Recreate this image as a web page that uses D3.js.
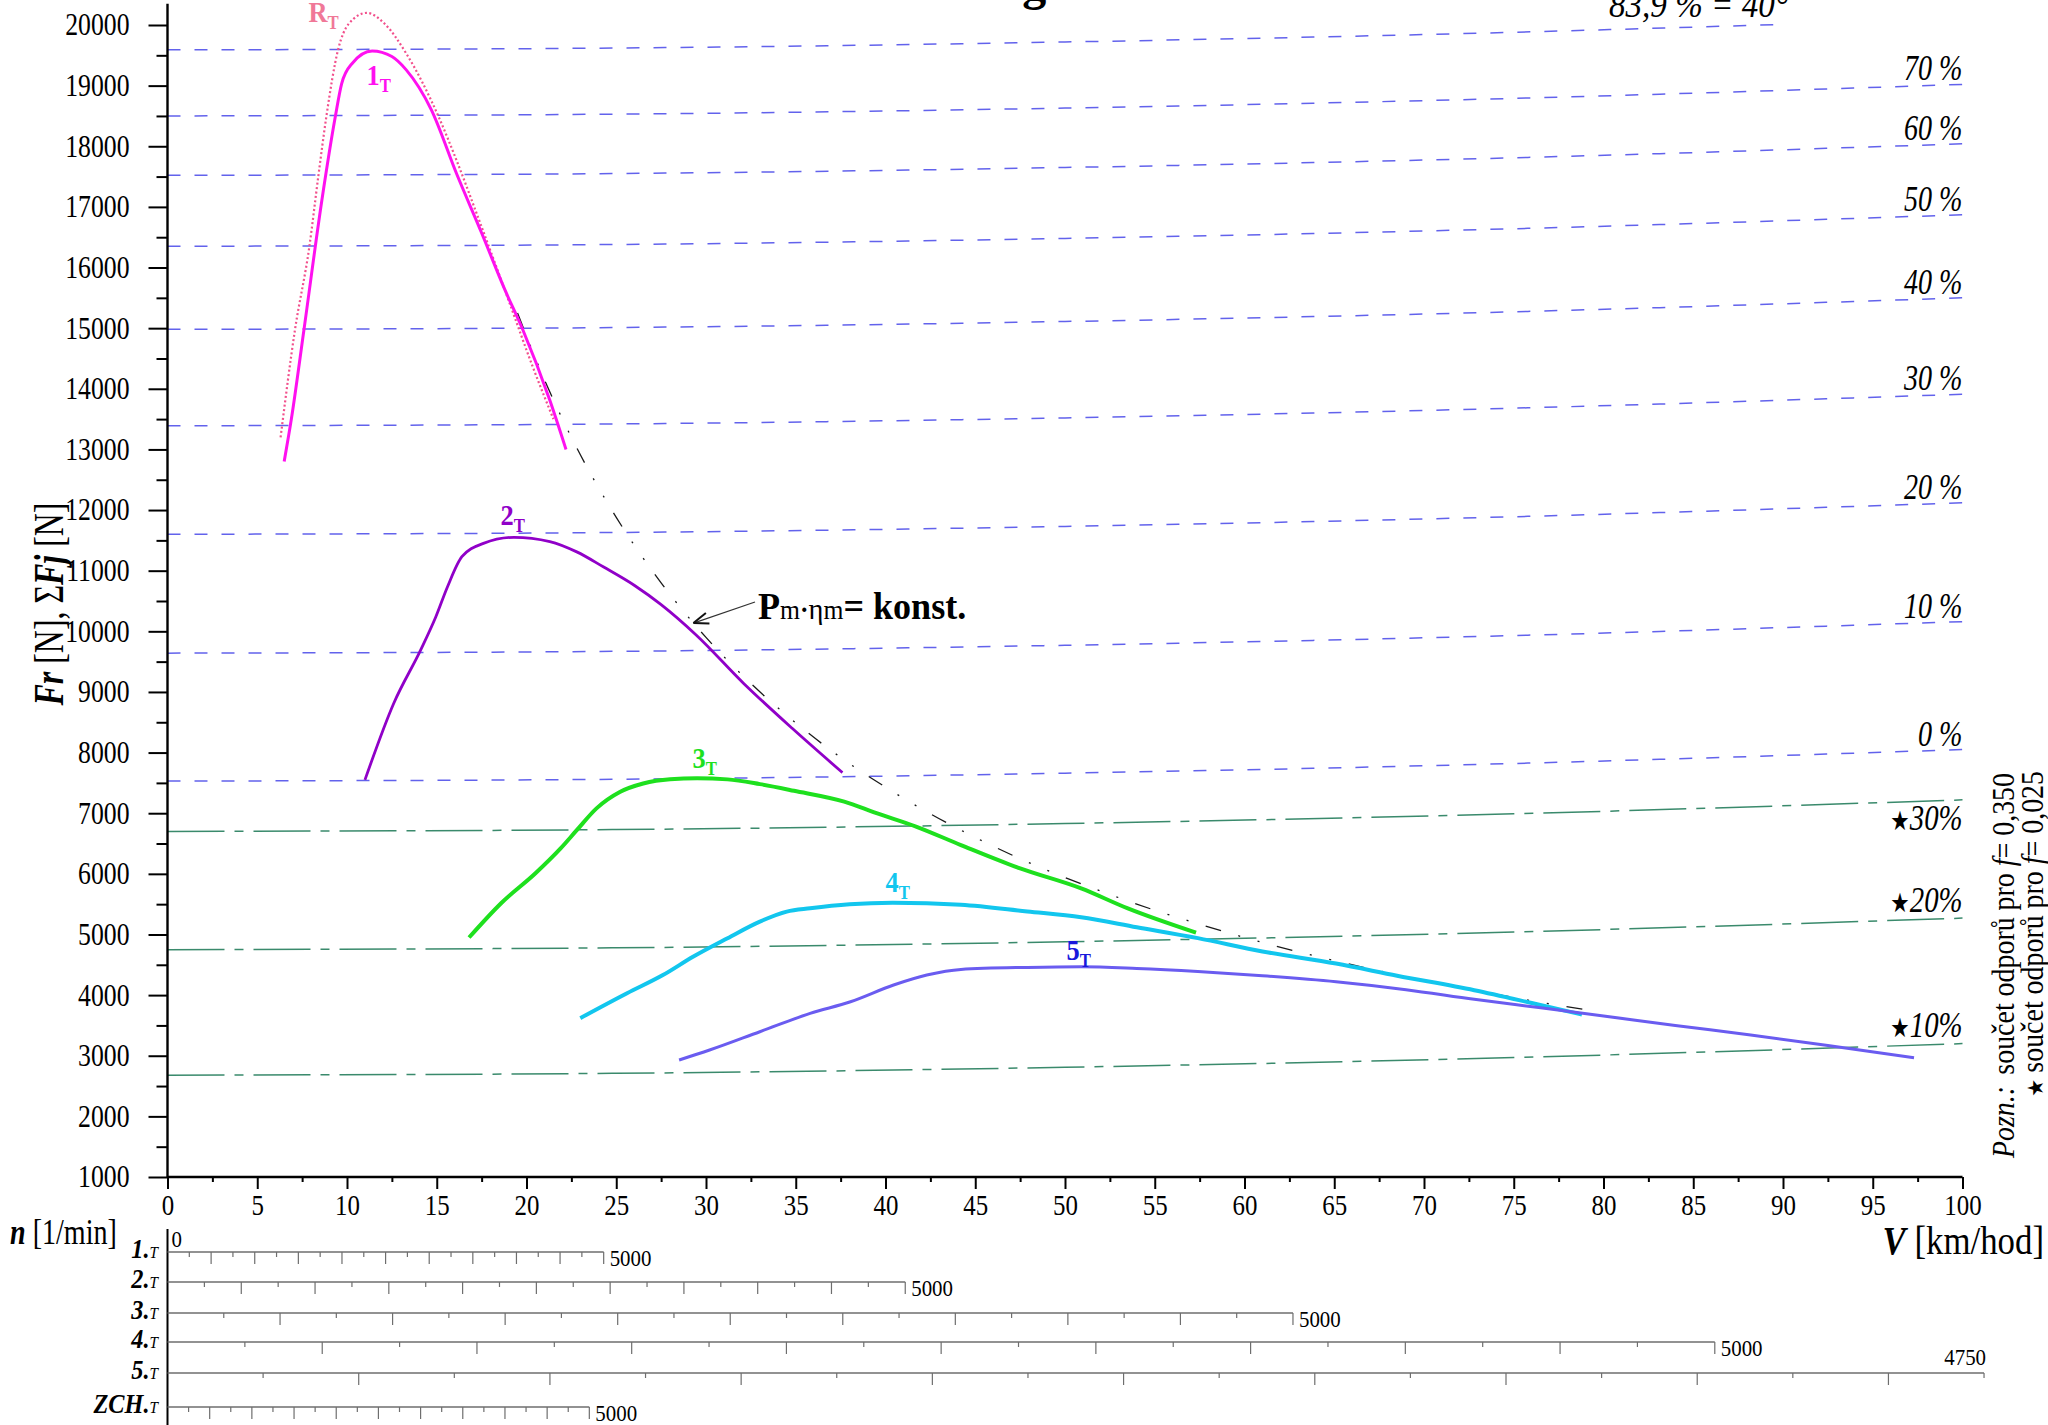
<!DOCTYPE html>
<html>
<head>
<meta charset="utf-8">
<script src="https://cdn.jsdelivr.net/npm/d3@7/dist/d3.min.js"></script>
<style>
  body { margin: 0; background: #fff; }
  svg { display: block; }
  text { font-family: "Liberation Serif", "Times New Roman", serif; fill: #000; }
</style>
</head>
<body>
<svg id="chart" width="2048" height="1425"></svg>
<script>
// ---------- axis ticks ----------
const speedTicks = [0, 5, 10, 15, 20, 25, 30, 35, 40, 45, 50, 55, 60, 65, 70, 75, 80, 85, 90, 95, 100];
const speedMinor = [2.5, 7.5, 12.5, 17.5, 22.5, 27.5, 32.5, 37.5, 42.5, 47.5, 52.5, 57.5, 62.5, 67.5, 72.5, 77.5, 82.5, 87.5, 92.5, 97.5];
const forceTicks = [1000, 2000, 3000, 4000, 5000, 6000, 7000, 8000, 9000, 10000, 11000, 12000, 13000, 14000, 15000, 16000, 17000, 18000, 19000, 20000];
const forceMinor = [1500, 2500, 3500, 4500, 5500, 6500, 7500, 8500, 9500, 10500, 11500, 12500, 13500, 14500, 15500, 16500, 17500, 18500, 19500];

// ---------- tractive force per gear [V km/h, F N] ----------
const gear1 = [[6.5,12800],[6.9,13500],[7.6,14970],[8.6,17110],[9.35,18490],[9.7,19030],[10.3,19370],[11.4,19570],[12.5,19480],[13.3,19260],[14.7,18600],[16.1,17550],[17.5,16570],[18.8,15630],[19.8,14970],[21.3,13810],[22.2,13000]];
const idealR = [[6.3,13200],[7.1,14970],[7.9,16340],[8.4,17500],[8.85,18490],[9.5,19590],[10.1,20020],[11.1,20200],[12.1,20020],[13.3,19530],[15.1,18490],[16.1,17770],[17.5,16670],[19.0,15460],[20.3,14400],[21.5,13500]];
const gear2 = [[11.0,7550],[12.6,8810],[14.1,9690],[14.95,10240],[15.6,10735],[16.4,11230],[17.6,11450],[19.3,11550],[21.3,11480],[22.8,11310],[24.3,11060],[26.0,10760],[27.5,10440],[29.45,9940],[32.1,9140],[34.8,8400],[37.6,7670]];
const gear3 = [[16.8,4950],[18.6,5520],[20.5,6010],[21.9,6420],[22.8,6720],[23.9,7080],[25.2,7350],[26.5,7490],[28.0,7560],[29.5,7575],[31.2,7558],[33.0,7480],[34.9,7370],[37.7,7190],[39.5,7000],[41.7,6780],[44.2,6475],[47.5,6090],[50.9,5760],[53.5,5430],[57.3,5030]];
const gear4 = [[23.0,3620],[25.6,4030],[27.6,4330],[29.3,4636],[31.2,4938],[33.0,5212],[34.5,5377],[35.8,5432],[38.0,5500],[40.4,5525],[44.2,5490],[47.9,5380],[50.9,5285],[54.0,5120],[57.4,4940],[61.0,4720],[65.1,4520],[68.5,4320],[72.8,4080],[76.0,3870],[78.8,3680]];
const gear5 = [[28.5,2930],[30.2,3094],[33.0,3396],[35.8,3698],[38.05,3890],[40.45,4166],[42.3,4331],[44.2,4424],[47.9,4457],[50.9,4468],[54.0,4440],[57.4,4390],[61.0,4320],[65.1,4221],[69.0,4090],[72.8,3930],[76.5,3790],[79.9,3660],[84.0,3500],[88.2,3342],[92.5,3170],[97.3,2967]];
// constant engine power curve
const constPower = [[19.5,15250],[21,14150],[22.5,13200],[25,11880],[27.5,10800],[30,9900],[32.5,9140],[35,8490],[37.5,7920],[40,7430],[42.5,6990],[45,6600],[47.5,6250],[50,5940],[52.5,5660],[55,5400],[57.5,5170],[60,4950],[62.5,4750],[65,4570],[67.5,4400],[70,4240],[72.5,4100],[75,3960],[77.5,3830],[79,3760]];

// ---------- total resistance lines ----------
const resistSpeeds = [0, 25, 50, 75, 100];
const gradeLabels = ["0 %", "10 %", "20 %", "30 %", "40 %", "50 %", "60 %", "70 %"];
const gradeValues = [
  [7530, 7560, 7660, 7820, 8050],
  [9640, 9670, 9770, 9930, 10160],
  [11600, 11630, 11730, 11890, 12120],
  [13390, 13420, 13520, 13680, 13910],
  [14980, 15010, 15110, 15270, 15500],
  [16350, 16380, 16480, 16640, 16870],
  [17520, 17550, 17650, 17810, 18040],
  [18500, 18530, 18630, 18790, 19020]
];
const steepLabel = "83,9 % = 40°";
const steepSpeeds = [0, 25, 50, 75, 90];
const steepValues = [19590, 19620, 19720, 19880, 20010];
const starLabels = ["30%", "20%", "10%"];
const starValues = [
  [6700, 6730, 6830, 6990, 7220],
  [4750, 4780, 4880, 5040, 5270],
  [2680, 2710, 2810, 2970, 3200]
];

// ---------- engine speed scales ----------
const rpmRows = ["1.", "2.", "3.", "4.", "5.", "ZCH."];
const rpmTop = [5000, 5000, 5000, 5000, 4750, 5000];
const rpmTopSpeed = [24.3, 41.1, 62.7, 86.2, 101.2, 23.5];

// ---------- drawing ----------
const svg = d3.select("#chart");
const x = d3.scaleLinear().domain([0, 100]).range([167.5, 1962.5]);
const y = d3.scaleLinear().domain([1000, 20000]).range([1177, 25]);
const line = d3.line().x(d => x(d[0])).y(d => y(d[1])).curve(d3.curveMonotoneX);

// narrow, tall serif lettering: text placed at (px,py), squeezed along its baseline
function ctext(parent, px, py, size, sx, anchor, rotate) {
  const t = parent.append("text")
    .attr("transform", `translate(${px},${py})${rotate ? ` rotate(${rotate})` : ""} scale(${sx},1)`)
    .attr("font-size", size);
  if (anchor) t.attr("text-anchor", anchor);
  return t;
}

// title
svg.append("text").attr("x", 958).attr("y", 0).attr("text-anchor", "middle")
  .attr("font-size", 48).attr("font-weight", "bold").text("Trakční diagram");

// resistance lines, f = 0.350
const gradeG = svg.append("g");
const gradeStroke = "#6262ec";
gradeValues.forEach((vals, i) => {
  const pts = resistSpeeds.map((s, k) => [s, vals[k]]);
  gradeG.append("path").attr("d", line(pts)).attr("fill", "none")
    .attr("stroke", gradeStroke).attr("stroke-width", 1.5).attr("stroke-dasharray", "13,14");
  ctext(gradeG, x(100), y(vals[vals.length - 1]) - 4, 36, 0.78, "end")
    .attr("font-style", "italic").text(gradeLabels[i]);
});
{
  const pts = steepSpeeds.map((s, k) => [s, steepValues[k]]);
  gradeG.append("path").attr("d", line(pts)).attr("fill", "none")
    .attr("stroke", gradeStroke).attr("stroke-width", 1.5).attr("stroke-dasharray", "13,14");
  ctext(gradeG, x(90) + 5, y(steepValues[steepValues.length - 1]) - 7, 36, 0.92, "end")
    .attr("font-style", "italic").text(steepLabel);
}

// resistance lines, f = 0.025
const starG = svg.append("g");
const starOffsets = [30, -6, -7];
starValues.forEach((vals, i) => {
  const pts = resistSpeeds.map((s, k) => [s, vals[k]]);
  starG.append("path").attr("d", line(pts)).attr("fill", "none")
    .attr("stroke", "#3a8a6c").attr("stroke-width", 1.5).attr("stroke-dasharray", "57,10,9,10");
  const t = ctext(starG, x(100), y(vals[vals.length - 1]) + starOffsets[i], 36, 0.8, "end");
  t.append("tspan").attr("font-family", "DejaVu Sans").attr("font-size", 27).text("★");
  t.append("tspan").attr("font-style", "italic").text(starLabels[i]);
});

// constant power hyperbola
svg.append("path").attr("d", line(constPower)).attr("fill", "none")
  .attr("stroke", "#1a1a1a").attr("stroke-width", 1.3).attr("stroke-dasharray", "16,18,2,18,2,18");

// gear curves
const curves = [
  { data: idealR, color: "#f2508c", width: 2.2, dash: "2,2.4" },
  { data: gear1, color: "#ff10f0", width: 3 },
  { data: gear2, color: "#9000c8", width: 2.8 },
  { data: gear3, color: "#1ee01e", width: 4 },
  { data: gear4, color: "#12c6ee", width: 4 },
  { data: gear5, color: "#6a5cf0", width: 3 }
];
curves.forEach(c => {
  svg.append("path").attr("d", line(c.data)).attr("fill", "none")
    .attr("stroke", c.color).attr("stroke-width", c.width)
    .attr("stroke-dasharray", c.dash || null).attr("stroke-linejoin", "round");
});

// gear labels
const gearLabels = [
  { main: "R", v: 7.85, f: 20047, color: "#f07898" },
  { main: "1", v: 11.09, f: 19008, color: "#ff10f0" },
  { main: "2", v: 18.55, f: 11752, color: "#9000c8" },
  { main: "3", v: 29.25, f: 7745, color: "#1ee01e" },
  { main: "4", v: 40.0, f: 5700, color: "#12c6ee" },
  { main: "5", v: 50.08, f: 4578, color: "#1818dc" }
];
gearLabels.forEach(g => {
  const t = ctext(svg, x(g.v), y(g.f), 30, 0.88).attr("font-weight", "bold").style("fill", g.color);
  t.append("tspan").text(g.main);
  t.append("tspan").attr("font-size", 19).attr("dy", 7).text("T");
});

// annotation for the constant power curve
const ax0 = 755, ay0 = 602;
const axT = x(29.3), ayT = y(10136);
svg.append("line").attr("x1", ax0).attr("y1", ay0).attr("x2", axT).attr("y2", ayT)
  .attr("stroke", "#333").attr("stroke-width", 1.3);
{
  const ang = Math.atan2(ay0 - ayT, ax0 - axT);
  [0.35, -0.35].forEach(d => {
    svg.append("line").attr("x1", axT).attr("y1", ayT)
      .attr("x2", axT + 16 * Math.cos(ang + d)).attr("y2", ayT + 16 * Math.sin(ang + d))
      .attr("stroke", "#111").attr("stroke-width", 2);
  });
}
{
  const t = ctext(svg, 758, 619, 38, 0.95).attr("font-weight", "bold");
  t.append("tspan").text("P");
  t.append("tspan").attr("font-size", 27).attr("font-weight", "normal").text("m");
  t.append("tspan").attr("font-size", 27).text("·");
  t.append("tspan").attr("font-size", 30).attr("font-weight", "normal").text("η");
  t.append("tspan").attr("font-size", 27).attr("font-weight", "normal").text("m");
  t.append("tspan").text("= konst.");
}

// axes
const yAxisG = svg.append("g").attr("transform", `translate(${x(0)},0)`);
yAxisG.call(d3.axisLeft(y).tickValues(forceTicks).tickSize(19).tickPadding(19).tickFormat(d3.format("d")));
const yMinorG = svg.append("g").attr("transform", `translate(${x(0)},0)`);
yMinorG.call(d3.axisLeft(y).tickValues(forceMinor).tickSize(11).tickFormat(""));
const xAxisG = svg.append("g").attr("transform", `translate(0,${y(1000)})`);
xAxisG.call(d3.axisBottom(x).tickValues(speedTicks).tickSize(12).tickPadding(6).tickFormat(d3.format("d")));
const xMinorG = svg.append("g").attr("transform", `translate(0,${y(1000)})`);
xMinorG.call(d3.axisBottom(x).tickValues(speedMinor).tickSize(5).tickFormat(""));
[yAxisG, yMinorG, xAxisG, xMinorG].forEach(g => {
  g.select(".domain").remove();
  g.selectAll(".tick line").attr("stroke", "#000").attr("stroke-width", 2);
  g.selectAll(".tick text").attr("font-family", "Liberation Serif").attr("fill", "#000");
});
yAxisG.selectAll(".tick text").attr("font-size", 31).attr("x", 0)
  .attr("transform", "translate(-38,0) scale(0.83,1)");
xAxisG.selectAll(".tick text").attr("font-size", 30).attr("y", 0)
  .attr("transform", "translate(0,17) scale(0.83,1)");
svg.append("line").attr("x1", x(0)).attr("x2", x(0)).attr("y1", y(1000)).attr("y2", y(20350))
  .attr("stroke", "#000").attr("stroke-width", 2.4);
svg.append("line").attr("x1", x(0)).attr("x2", x(100)).attr("y1", y(1000)).attr("y2", y(1000))
  .attr("stroke", "#000").attr("stroke-width", 2.4);

// axis titles
{
  const t = ctext(svg, 63, 604, 42, 0.76, "middle", -90);
  t.append("tspan").attr("font-weight", "bold").attr("font-style", "italic").text("Fr");
  t.append("tspan").text(" [N], Σ");
  t.append("tspan").attr("font-weight", "bold").attr("font-style", "italic").text("Fj");
  t.append("tspan").text(" [N]");
}
{
  const t = ctext(svg, 2044, 1254, 40, 0.87, "end");
  t.append("tspan").attr("font-weight", "bold").attr("font-style", "italic").text("V");
  t.append("tspan").text(" [km/hod]");
}

// note
{
  const g = svg.append("g");
  ctext(g, 2014, 1158, 31, 0.9, null, -90).attr("font-style", "italic").text("Pozn.:");
  const l1 = ctext(g, 2014, 773, 31, 0.9, "end", -90);
  l1.append("tspan").text("součet odporů pro ");
  l1.append("tspan").attr("font-style", "italic").text("f");
  l1.append("tspan").text("= 0,350");
  const l2 = ctext(g, 2043, 771, 31, 0.9, "end", -90);
  l2.append("tspan").attr("font-family", "DejaVu Sans").attr("font-size", 22).text("★ ");
  l2.append("tspan").text("součet odporů pro ");
  l2.append("tspan").attr("font-style", "italic").text("f");
  l2.append("tspan").text("= 0,025");
}

// engine speed scales
const rowY = [1252, 1282, 1313, 1342, 1373, 1407];
const rpmG = svg.append("g");
rpmG.append("line").attr("x1", x(0)).attr("x2", x(0)).attr("y1", 1229).attr("y2", 1425)
  .attr("stroke", "#000").attr("stroke-width", 2);
{
  const t = ctext(rpmG, 10, 1244, 36, 0.78);
  t.append("tspan").attr("font-weight", "bold").attr("font-style", "italic").text("n");
  t.append("tspan").text(" [1/min]");
}
ctext(rpmG, x(0) + 4, 1247, 24, 0.87).text("0");
rpmRows.forEach((name, i) => {
  const s = d3.scaleLinear().domain([0, rpmTop[i]]).range([x(0), x(rpmTopSpeed[i])]);
  const yy = rowY[i];
  rpmG.append("line").attr("x1", s(0)).attr("x2", s(rpmTop[i])).attr("y1", yy).attr("y2", yy)
    .attr("stroke", "#6e6e6e").attr("stroke-width", 1.4);
  d3.range(250, rpmTop[i] + 1, 250).forEach(n => {
    rpmG.append("line").attr("x1", s(n)).attr("x2", s(n)).attr("y1", yy)
      .attr("y2", yy + (n % 500 === 0 ? 12 : 5)).attr("stroke", "#6e6e6e").attr("stroke-width", 1.2);
  });
  const lab = ctext(rpmG, 158, yy + 6, 27, 0.9, "end");
  lab.append("tspan").attr("font-weight", "bold").attr("font-style", "italic").text(name);
  lab.append("tspan").attr("font-style", "italic").attr("font-size", 17).text("T");
  if (i === 4) {
    ctext(rpmG, s(rpmTop[i]) + 2, yy - 8, 24, 0.87, "end").text(String(rpmTop[i]));
  } else {
    ctext(rpmG, s(rpmTop[i]) + 6, yy + 14, 24, 0.87).text(String(rpmTop[i]));
  }
});
</script>
</body>
</html>
